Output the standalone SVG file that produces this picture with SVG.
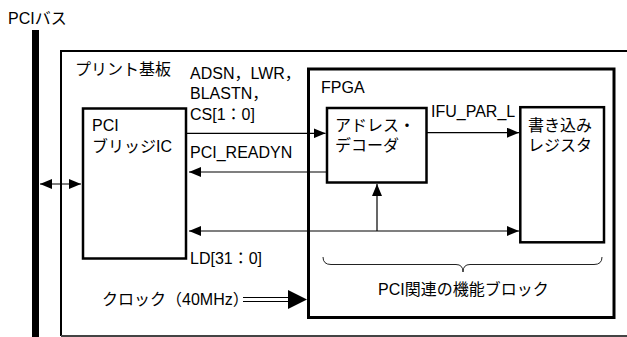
<svg xmlns="http://www.w3.org/2000/svg" width="627" height="337" viewBox="0 0 627 337">
<style>
text{font-family:"Liberation Sans","Noto Sans CJK JP",sans-serif;font-size:16px;fill:#000}
.box{fill:#fff;stroke:#000;stroke-width:2.5}
.ln{fill:none;stroke:#000;stroke-width:1.2}
</style>
<defs>
<marker id="ah" viewBox="0 0 12 10" refX="12" refY="5" markerWidth="12" markerHeight="10" markerUnits="userSpaceOnUse" orient="auto-start-reverse">
<path d="M0,0 L12,5 L0,10 z" fill="#000"/>
</marker>
</defs>
<rect x="0" y="0" width="627" height="337" fill="#fff"/>
<g id="pci-bus">
<rect x="32" y="30" width="7" height="307" fill="#000"/>
<text x="8" y="24">PCIバス</text>
</g>
<g id="board">
<path d="M627,51 H61 V336" fill="none" stroke="#000" stroke-width="2"/>
<path d="M61,336 H627" fill="none" stroke="#444" stroke-width="2"/>
<text x="75" y="75">プリント基板</text>
</g>
<g id="bridge">
<rect class="box" x="83" y="108.5" width="103" height="150"/>
<text x="92" y="131">PCI</text>
<text x="92" y="152">ブリッジIC</text>
</g>
<g id="fpga">
<rect x="308.5" y="69" width="305.5" height="248.5" fill="none" stroke="#000" stroke-width="3"/>
<text x="321" y="93">FPGA</text>
</g>
<g id="decoder">
<rect class="box" x="327" y="108" width="99.5" height="74.5"/>
<text x="335" y="131">アドレス・</text>
<text x="335" y="151">デコーダ</text>
</g>
<g id="register">
<rect class="box" x="520.3" y="107.2" width="83.7" height="135.1"/>
<text x="528" y="131">書き込み</text>
<text x="528" y="151">レジスタ</text>
</g>
<g id="connectors">
<line class="ln" x1="40" y1="184" x2="81" y2="184" marker-start="url(#ah)" marker-end="url(#ah)"/>
<line class="ln" x1="187" y1="133.3" x2="325.5" y2="133.3" marker-end="url(#ah)"/>
<line class="ln" x1="426" y1="132.7" x2="519" y2="132.7" marker-end="url(#ah)"/>
<line class="ln" x1="327" y1="172" x2="189" y2="172" marker-end="url(#ah)"/>
<line class="ln" x1="189" y1="231" x2="519" y2="231" marker-start="url(#ah)" marker-end="url(#ah)"/>
<line class="ln" x1="377" y1="231" x2="377" y2="184" marker-end="url(#ah)"/>
<line x1="243" y1="297.5" x2="290" y2="297.5" stroke="#000" stroke-width="1.2"/>
<line x1="243" y1="301.5" x2="290" y2="301.5" stroke="#000" stroke-width="1.2"/>
<path d="M288,290 L307,299.5 L288,309 z" fill="#000"/>
<path d="M323,257 Q323,264.5 331,264.5 L456,264.5 Q463,264.5 463,272 Q463,264.5 470,264.5 L594,264.5 Q602,264.5 602,257" fill="none" stroke="#222" stroke-width="1"/>
</g>
<g id="labels">
<text x="190" y="79">ADSN，LWR，</text>
<text x="190" y="99">BLASTN，</text>
<text x="190" y="120">CS[1：0]</text>
<text x="190" y="158">PCI_READYN</text>
<text x="431" y="117">IFU_PAR_L</text>
<text x="190" y="264">LD[31：0]</text>
<text x="102" y="305">クロック（40MHz）</text>
<text x="378" y="295">PCI関連の機能ブロック</text>
</g>
</svg>
